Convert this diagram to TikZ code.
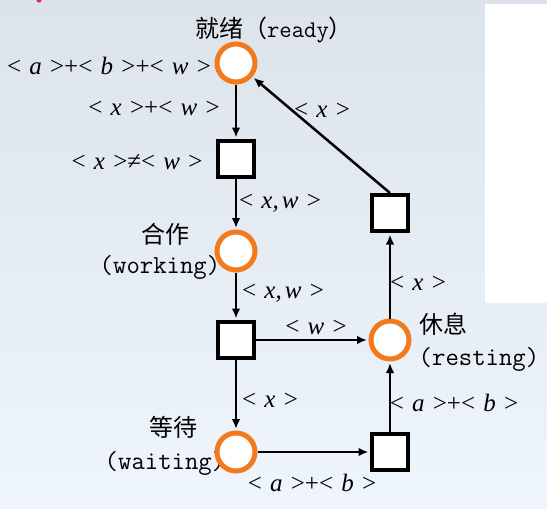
\documentclass[tikz,border=0pt]{standalone}
\usepackage{fontspec}
\newfontfamily\cjk{Noto Sans CJK SC}
\newfontfamily\lser{Liberation Serif}
\usetikzlibrary{arrows.meta}
\definecolor{pnorange}{RGB}{243,122,28}
\definecolor{bgtop}{RGB}{220,227,234}
\definecolor{bgbot}{RGB}{238,245,252}
\newcommand{\pang}[1]{<\hspace{.33em}\textit{#1}\hspace{.33em}>}
\tikzset{
  place/.style={circle,draw=pnorange,line width=5pt,fill=white,minimum size=38pt,inner sep=0pt},
  trans/.style={rectangle,draw=black,line width=4pt,fill=white,minimum size=36pt,inner sep=0pt},
  arc/.style={line width=2.5pt,-{Latex[length=10pt,width=8.5pt]},shorten >=1.5pt},
  mlab/.style={inner sep=0pt,font=\lser\fontsize{25}{28}\selectfont},
  clab/.style={inner sep=0pt,font=\cjk\fontsize{24}{28}\selectfont},
  tlab/.style={inner sep=0pt,font=\ttfamily\fontsize{26}{28}\selectfont}
}
\begin{document}
\begin{tikzpicture}[x=1pt,y=-1pt]
\useasboundingbox (0,0) rectangle (547,509);
\shade[top color=bgtop,bottom color=bgbot] (0,0) rectangle (547,509);
\fill[white] (485,4) rectangle (547,303);
\fill[magenta!70!purple] (39,0) circle (2.5pt);
% labels
\node[clab] (lready) at (274,30) {就绪（{\ttfamily ready}）};
\node[mlab] (l1) at (109,66) {\pang{a}+\pang{b}+\pang{w}};
\node[mlab] (l2) at (154,108) {\pang{x}+\pang{w}};
\node[mlab] (l3) at (137,162) {\pang{x}≠\pang{w}};
\node[mlab] (l4) at (280,203) {\pang{x,\hspace{.12em}w}};
\node[clab] (lwork) at (165,234) {合作};
\node[tlab] (lwork2) at (160,267) {(working)};
\node[mlab] (l5) at (283,293) {\pang{x,\hspace{.12em}w}};
\node[mlab] (l6) at (316,327) {\pang{w}};
\node[mlab] (l7) at (270,400) {\pang{x}};
\node[clab] (lwait) at (173,427) {等待};
\node[tlab] (lwait2) at (165,463) {(waiting)};
\node[mlab] (l8) at (312,483) {\pang{a}+\pang{b}};
\node[clab] (lrest) at (443,324) {休息};
\node[tlab] (lrest2) at (479,359) {(resting)};
\node[mlab] (l9) at (454,403) {\pang{a}+\pang{b}};
\node[mlab] (l10) at (418,283) {\pang{x}};
\node[mlab] (l11) at (322,110) {\pang{x}};
% net
\node[place] (ready) at (236,63) {};
\node[trans] (t1) at (236,159) {};
\node[place] (working) at (236,251) {};
\node[trans] (t2) at (236,340) {};
\node[place] (waiting) at (236,452) {};
\node[trans] (t4) at (390,452) {};
\node[place] (resting) at (390,340) {};
\node[trans] (t3) at (390,213) {};
\draw[arc] (ready) -- (t1);
\draw[arc] (t1) -- (working);
\draw[arc] (working) -- (t2);
\draw[arc] (t2) -- (waiting);
\draw[arc] (t2) -- (resting);
\draw[arc] (waiting) -- (t4);
\draw[arc] (t4) -- (resting);
\draw[arc] (resting) -- (t3);
\draw[arc] (t3.north) -- (ready);
\end{tikzpicture}
\end{document}
